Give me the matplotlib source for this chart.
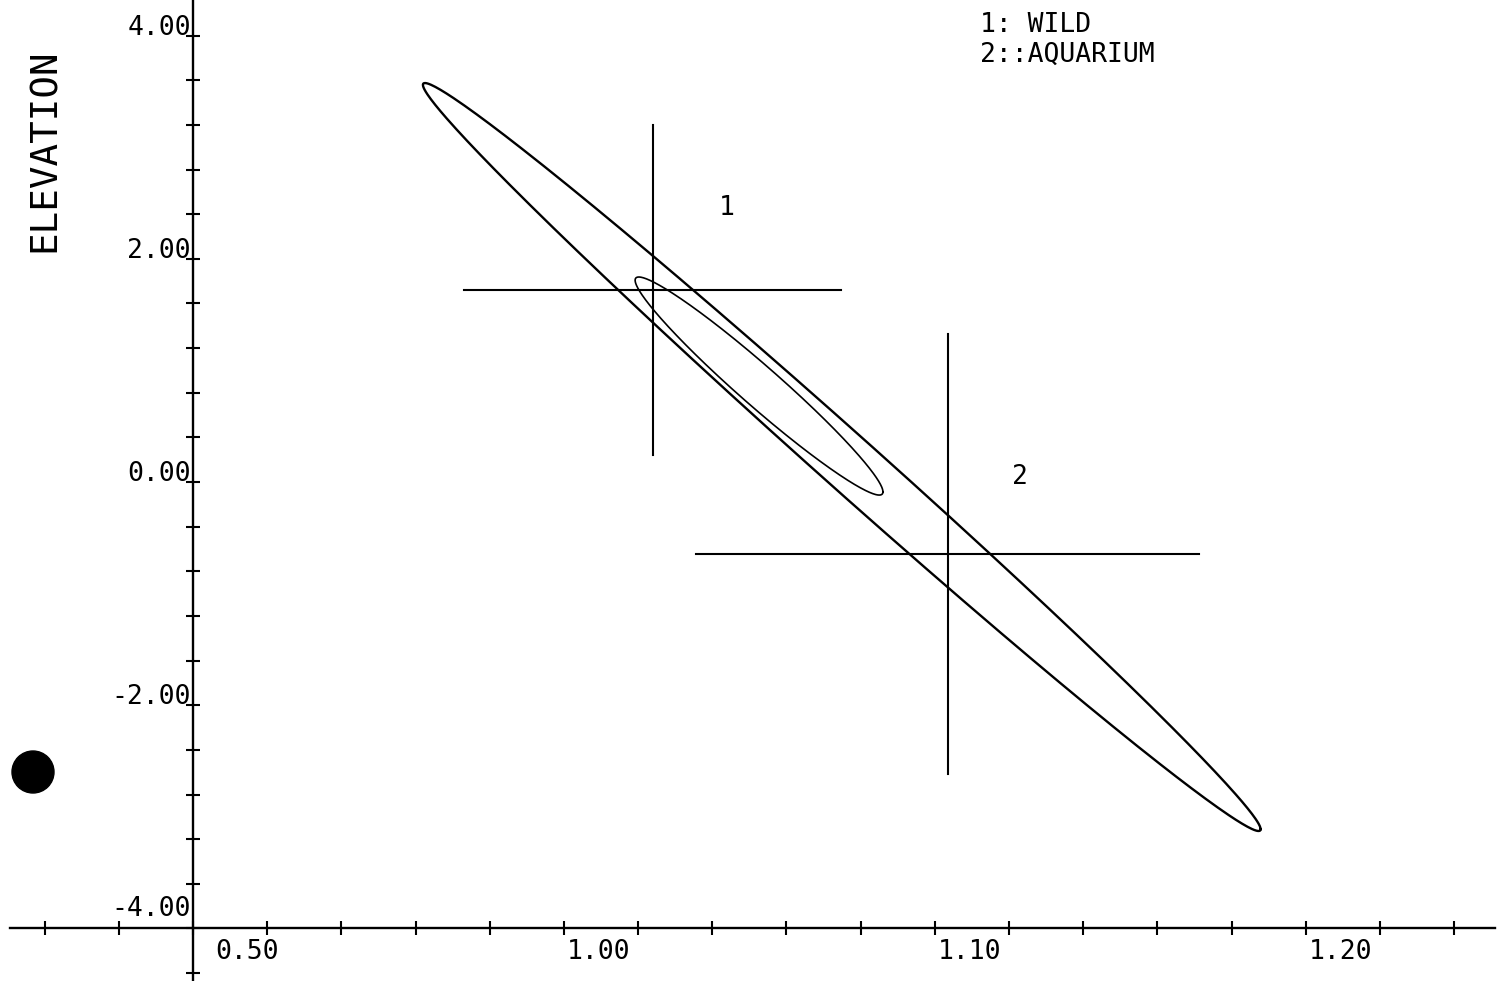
import numpy as np
import matplotlib.pyplot as plt
from matplotlib import transforms
from matplotlib.patches import Ellipse

# group means and half-lengths of the cross bars
grp_names = ['1', '2']
grp_mean_x = [1.024, 1.1035]
grp_mean_y = [1.72, -0.645]
grp_half_x = [0.0508, 0.0678]
grp_half_y = [1.478, 1.971]
grp_label_x = [1.0439, 1.1229]
grp_label_y = [2.455, 0.045]

# ellipses: center, sd in x, sd in y, correlation
ell_cx = [1.0749, 1.0526]
ell_cy = [0.224, 0.860]
ell_sx = [0.1129, 0.0334]
ell_sy = [3.351, 0.977]
ell_r = [-0.995, -0.97]
ell_lw = [1.7, 1.2]

xtick_vals = [0.90, 1.00, 1.10, 1.20]
xtick_text = ['0.50', '1.00', '1.10', '1.20']
ytick_vals = [4.0, 2.0, 0.0, -2.0, -4.0]
ytick_text = ['4.00', '2.00', '0.00', '-2.00', '-4.00']

legend_lines = ['1: WILD', '2::AQUARIUM']

FONT = 'DejaVu Sans Mono'
FS = 19

fig = plt.figure(figsize=(15.01, 9.81), dpi=100)
ax = fig.add_axes([0, 0, 1, 1])
ax.set_xlim(0.848, 1.2526)
ax.set_ylim(-4.471, 4.319)
ax.patch.set_alpha(0)

for s in ['top', 'right']:
    ax.spines[s].set_visible(False)
ax.spines['left'].set_position(('data', 0.90))
ax.spines['bottom'].set_position(('data', -4.0))
ax.spines['bottom'].set_bounds(0.8507, 1.2510)
ax.spines['left'].set_linewidth(1.7)
ax.spines['bottom'].set_linewidth(1.7)

ax.set_xticks(np.arange(0.86, 1.2401, 0.02))
ax.set_yticks(np.arange(-4.4, 4.01, 0.4))
ax.tick_params(direction='inout', length=10, width=1.5, labelbottom=False, labelleft=False)

# tick labels
for v, t in zip(xtick_vals, xtick_text):
    dx = 22 if v == xtick_vals[0] else 3
    tr = transforms.offset_copy(ax.transData, fig, x=dx, y=-11, units='dots')
    ax.text(v, -4.0, t, transform=tr, ha='left', va='top', fontsize=FS, family=FONT)
for v, t in zip(ytick_vals, ytick_text):
    dy = 12 if v == ytick_vals[-1] else 1
    tr = transforms.offset_copy(ax.transData, fig, x=-2, y=dy, units='dots')
    ax.text(0.90, v, t, transform=tr, ha='right', va='baseline', fontsize=FS, family=FONT)

fig.text(45 / 1501, 1 - 150 / 981, 'ELEVATION', rotation=90, ha='center', va='center',
         fontsize=27, family=FONT)

# ellipses
t = np.linspace(0, 2 * np.pi, 400)
for cx, cy, sx, sy, r, lw in zip(ell_cx, ell_cy, ell_sx, ell_sy, ell_r, ell_lw):
    ex = cx + sx * np.cos(t)
    ey = cy + sy * (r * np.cos(t) + np.sqrt(1 - r ** 2) * np.sin(t))
    ax.plot(ex, ey, color='black', lw=lw)

# crosses
for mx, my, hx, hy in zip(grp_mean_x, grp_mean_y, grp_half_x, grp_half_y):
    ax.plot([mx - hx, mx + hx], [my, my], color='black', lw=1.5)
    ax.plot([mx, mx], [my - hy, my + hy], color='black', lw=1.5)

for n, lx, ly in zip(grp_names, grp_label_x, grp_label_y):
    ax.text(lx, ly, n, ha='center', va='center', fontsize=FS, family=FONT)

# legend text
fig.text(980 / 1501, 1 - 32 / 981, legend_lines[0], ha='left', va='baseline', fontsize=FS, family=FONT)
fig.text(980 / 1501, 1 - 62 / 981, legend_lines[1], ha='left', va='baseline', fontsize=FS, family=FONT)

# punch hole from the scan
fig.patches.append(Ellipse((33 / 1501, 1 - 772 / 981), 42 / 1501, 42 / 981,
                           transform=fig.transFigure, color='black'))

fig.savefig('out.png', dpi=100, facecolor='white')
